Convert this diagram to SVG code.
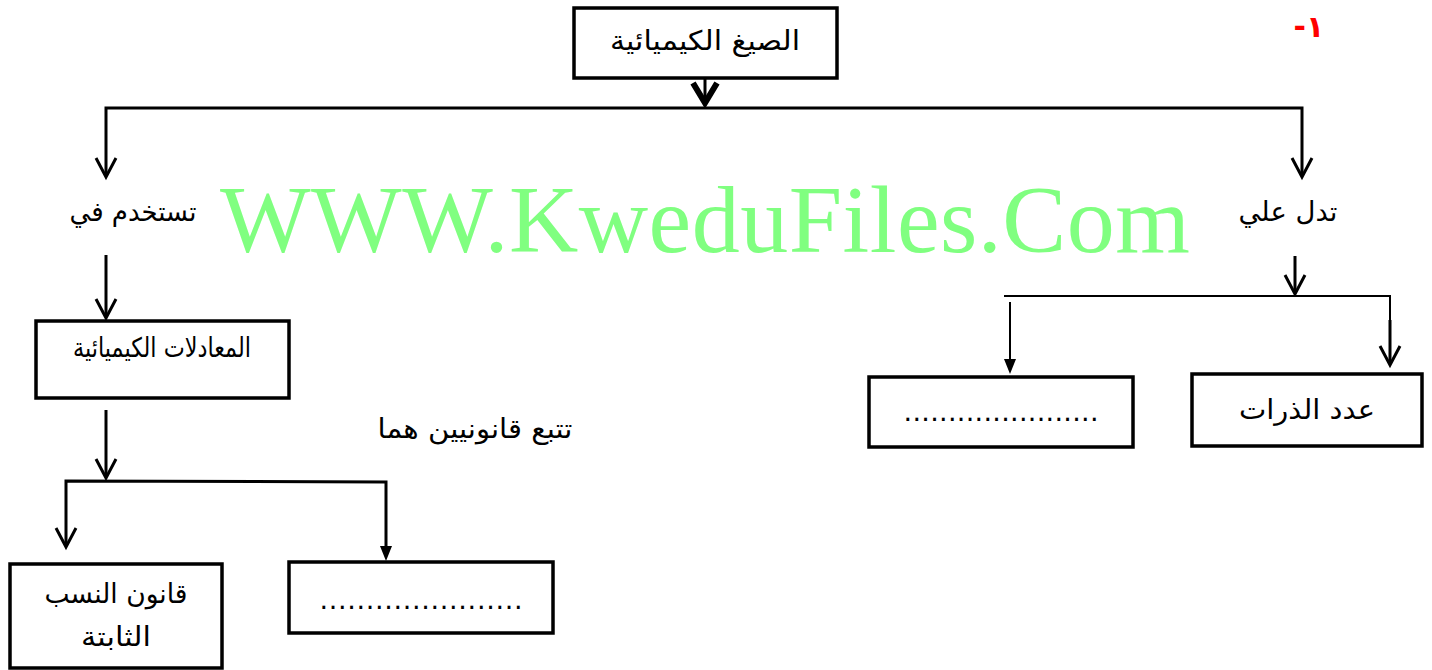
<svg xmlns="http://www.w3.org/2000/svg" width="1432" height="670" viewBox="0 0 1432 670">
<style>
.box{fill:#fff;stroke:#000;stroke-width:3.5}
.t{font-family:"DejaVu Sans","Liberation Sans",sans-serif;font-size:27px;fill:#000;text-anchor:middle}
.thick{stroke:#000;stroke-width:3;fill:none}
.thin{stroke:#000;stroke-width:2;fill:none}
.chev{stroke:#000;stroke-width:3;fill:none;stroke-linejoin:miter}
</style>
<rect width="1432" height="670" fill="#fff"/>
<text x="220" y="252" font-family="Liberation Serif,serif" font-size="96" fill="#80FF80" textLength="970">WWW.KweduFiles.Com</text>
<text x="1309" y="37" font-family="DejaVu Sans,sans-serif" font-size="30" font-weight="bold" fill="#FF0000" text-anchor="middle" direction="rtl">١-</text>
<g id="connectors">
<line class="thick" x1="705" y1="78" x2="705" y2="102"/>
<polyline points="693,83 705,103 717,83" stroke="#000" stroke-width="6" fill="none"/>
<polyline class="thick" points="106,176 106,108 1302,108 1302,176"/>
<polyline class="chev" points="96,158 106,177 116,158"/>
<polyline class="chev" points="1292,158 1302,177 1312,158"/>
<line class="thick" x1="106" y1="255" x2="106" y2="317"/>
<polyline class="chev" points="96,299 106,318 116,299"/>
<line class="thick" x1="106" y1="410" x2="106" y2="477"/>
<polyline class="chev" points="96,459 106,478 116,459"/>
<polyline class="thick" points="66,546 66,481 386,482 386,548"/>
<polyline class="chev" points="56,528 66,547 76,528"/>
<path d="M380,546 L392,546 L386,561 z" fill="#000"/>
<line class="thick" x1="1295" y1="256" x2="1295" y2="293"/>
<polyline class="chev" points="1285,275 1295,294 1305,275"/>
<polyline class="thin" points="1004,296 1390,296 1390,364"/>
<line stroke="#000" stroke-width="3" x1="1390" y1="320" x2="1390" y2="364"/>
<polyline class="chev" points="1380,346 1390,365 1400,346"/>
<line class="thin" x1="1010" y1="302" x2="1010" y2="360"/>
<path d="M1004,359 L1016,359 L1010,374 z" fill="#000"/>
</g>
<g id="n-top">
<rect class="box" x="574" y="8" width="263" height="70"/>
<text class="t" x="705" y="50" font-size="29" textLength="190" lengthAdjust="spacingAndGlyphs">الصيغ الكيميائية</text>
</g>
<g id="n-use">
<text class="t" x="133" y="221" font-size="27" textLength="127" lengthAdjust="spacingAndGlyphs">تستخدم في</text>
</g>
<g id="n-indicate">
<text class="t" x="1288" y="221" font-size="28" textLength="99" lengthAdjust="spacingAndGlyphs">تدل علي</text>
</g>
<g id="n-equations">
<rect class="box" x="36" y="321" width="253" height="77"/>
<text class="t" x="162" y="357" font-size="18" textLength="178" lengthAdjust="spacingAndGlyphs">المعادلات الكيميائية</text>
</g>
<g id="n-follow">
<text class="t" x="475" y="438" font-size="28" textLength="195" lengthAdjust="spacingAndGlyphs">تتبع قانونيين هما</text>
</g>
<g id="n-law">
<rect class="box" x="10" y="564" width="212" height="104"/>
<text class="t" x="116" y="603" font-size="28" textLength="143" lengthAdjust="spacingAndGlyphs">قانون النسب</text>
<text class="t" x="116" y="646" font-size="28" textLength="70" lengthAdjust="spacingAndGlyphs">الثابتة</text>
</g>
<g id="n-blank-left">
<rect class="box" x="289" y="562" width="264" height="71"/>
<text class="t" x="421" y="609" font-size="22" textLength="203">......................</text>
</g>
<g id="n-atoms">
<rect class="box" x="1192" y="374" width="230" height="72"/>
<text class="t" x="1307" y="419" font-size="28" textLength="136" lengthAdjust="spacingAndGlyphs">عدد الذرات</text>
</g>
<g id="n-blank-right">
<rect class="box" x="869" y="377" width="264" height="70"/>
<text class="t" x="1001" y="421" font-size="22" textLength="195">......................</text>
</g>
</svg>
